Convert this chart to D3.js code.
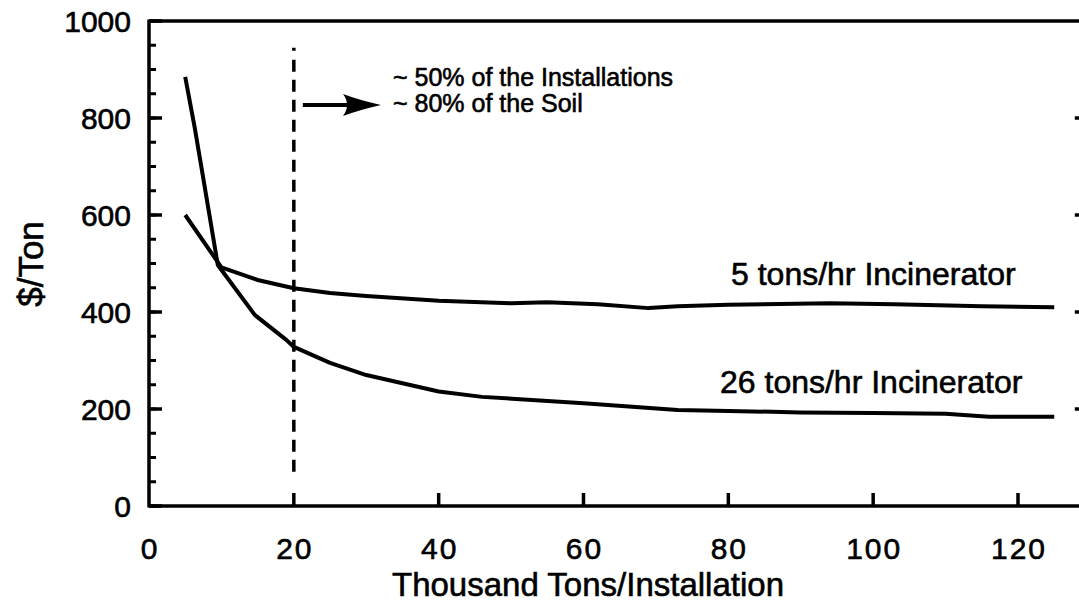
<!DOCTYPE html>
<html>
<head>
<meta charset="utf-8">
<script src="https://cdn.jsdelivr.net/npm/d3@7"></script>
<style>
  html, body { margin: 0; padding: 0; background: #fff; }
  svg { display: block; font-family: "Liberation Sans", Arial, Helvetica, sans-serif; }
  text { stroke: #000; stroke-width: 0.6px; }
</style>
</head>
<body>
<svg id="chart" width="1079" height="609"></svg>
<script>
// ---- data ----
const xTicks = [0, 20, 40, 60, 80, 100, 120];
const yTicks = [0, 200, 400, 600, 800, 1000];
const yMinorTicks = d3.range(0, 1001, 50);
const rightTicks = [200, 400, 600, 800];

const x5 = [5, 10, 15, 20, 25, 30, 40, 50, 55, 62, 69, 73, 80, 94, 103, 115, 125];
const y5 = [600, 492, 466, 449, 439, 433, 423, 418, 420, 416, 408, 412, 415, 418, 416, 412, 410];

const x26 = [5, 6.3, 7.3, 9.5, 14.6, 19, 20, 25, 30, 40, 46, 60, 73, 80, 90, 100, 110, 116, 125];
const y26 = [885, 781, 693, 497, 394, 342, 328, 295, 270, 236, 225, 212, 198, 196, 193, 192, 190, 184, 184];

const markerX = 20;
const markerRange = [945, 60];

const labels5 = "5 tons/hr Incinerator";
const labels26 = "26 tons/hr Incinerator";
const noteLines = ["~ 50% of the Installations", "~ 80% of the Soil"];
const xTitle = "Thousand Tons/Installation";
const yTitle = "$/Ton";

// ---- scales ----
const svg = d3.select("#chart");
const x = d3.scaleLinear().domain([0, 120]).range([149, 1018]);
const y = d3.scaleLinear().domain([0, 1000]).range([506, 21]);
const xRight = x(129.5);

const g = svg.append("g");

// frame
g.append("line").attr("x1", x(0)).attr("x2", xRight).attr("y1", y(1000)).attr("y2", y(1000))
  .attr("stroke", "#000").attr("stroke-width", 3.5);
g.append("line").attr("x1", x(0)).attr("x2", x(0)).attr("y1", y(1000) - 1.5).attr("y2", y(0) + 1.5)
  .attr("stroke", "#000").attr("stroke-width", 3.5);
g.append("line").attr("x1", x(0)).attr("x2", xRight).attr("y1", y(0)).attr("y2", y(0))
  .attr("stroke", "#000").attr("stroke-width", 3.5);
g.append("line").attr("x1", xRight).attr("x2", xRight).attr("y1", y(1000)).attr("y2", y(0))
  .attr("stroke", "#000").attr("stroke-width", 3.5);

// y ticks (inward)
g.selectAll(".ymin").data(yMinorTicks).join("line")
  .attr("x1", x(0)).attr("x2", x(0) + 7)
  .attr("y1", d => y(d)).attr("y2", d => y(d))
  .attr("stroke", "#000").attr("stroke-width", 3);
g.selectAll(".ymaj").data(yTicks).join("line")
  .attr("x1", x(0)).attr("x2", x(0) + 13)
  .attr("y1", d => y(d)).attr("y2", d => y(d))
  .attr("stroke", "#000").attr("stroke-width", 3.5);
g.selectAll(".ylab").data(yTicks).join("text")
  .attr("x", 131).attr("y", d => y(d) + 11)
  .attr("text-anchor", "end").attr("font-size", 30).attr("fill", "#000")
  .text(d => d);

// right ticks (inward)
g.selectAll(".rt").data(rightTicks).join("line")
  .attr("x1", xRight - 12).attr("x2", xRight)
  .attr("y1", d => y(d)).attr("y2", d => y(d))
  .attr("stroke", "#000").attr("stroke-width", 3.5);

// x ticks (inward)
g.selectAll(".xmaj").data(xTicks.filter(d => d > 0)).join("line")
  .attr("x1", d => x(d)).attr("x2", d => x(d))
  .attr("y1", y(0)).attr("y2", y(0) - 13)
  .attr("stroke", "#000").attr("stroke-width", 3.5);
g.selectAll(".xlab").data(xTicks).join("text")
  .attr("x", d => x(d) + 1).attr("y", 559)
  .attr("text-anchor", "middle").attr("font-size", 30).attr("letter-spacing", 2).attr("fill", "#000")
  .text(d => d);

// titles
g.append("text").attr("x", 588).attr("y", 596).attr("text-anchor", "middle")
  .attr("font-size", 33).attr("fill", "#000").text(xTitle);
g.append("text").attr("transform", "translate(43,264) rotate(-90)").attr("text-anchor", "middle")
  .attr("font-size", 35).attr("fill", "#000").text(yTitle);

// dashed marker line
const dashes = [3, 9].concat(d3.range(30).flatMap(() => [12, 8]));
g.append("line").attr("x1", x(markerX)).attr("x2", x(markerX))
  .attr("y1", y(markerRange[0])).attr("y2", y(markerRange[1]))
  .attr("stroke", "#000").attr("stroke-width", 3.5).attr("stroke-dasharray", dashes.join(","));

// arrow: shaft + head
const ay = 105, ax0 = x(markerX) + 9, ax1 = 381;
g.append("line").attr("x1", ax0).attr("x2", ax1 - 20).attr("y1", ay).attr("y2", ay)
  .attr("stroke", "#000").attr("stroke-width", 4);
g.append("path")
  .attr("d", `M${ax1 - 38},${ay - 11} Q${ax1 - 22},${ay - 5} ${ax1},${ay} Q${ax1 - 22},${ay + 5} ${ax1 - 38},${ay + 11} Q${ax1 - 30},${ay} ${ax1 - 38},${ay - 11} Z`)
  .attr("fill", "#000");

// note text
g.selectAll(".note").data(noteLines).join("text")
  .attr("x", 393).attr("y", (d, i) => 86 + i * 26)
  .attr("font-size", 25).attr("fill", "#000").text(d => d);

// series lines
const line = d3.line().x(d => x(d[0])).y(d => y(d[1]));
g.append("path").datum(d3.zip(x5, y5)).attr("d", line)
  .attr("fill", "none").attr("stroke", "#000").attr("stroke-width", 4).attr("stroke-linejoin", "round");
g.append("path").datum(d3.zip(x26, y26)).attr("d", line)
  .attr("fill", "none").attr("stroke", "#000").attr("stroke-width", 4).attr("stroke-linejoin", "round");

// series labels
g.append("text").attr("x", 731).attr("y", 285).attr("font-size", 32).attr("fill", "#000").text(labels5);
g.append("text").attr("x", 720).attr("y", 393).attr("font-size", 32).attr("fill", "#000").text(labels26);
</script>
</body>
</html>
